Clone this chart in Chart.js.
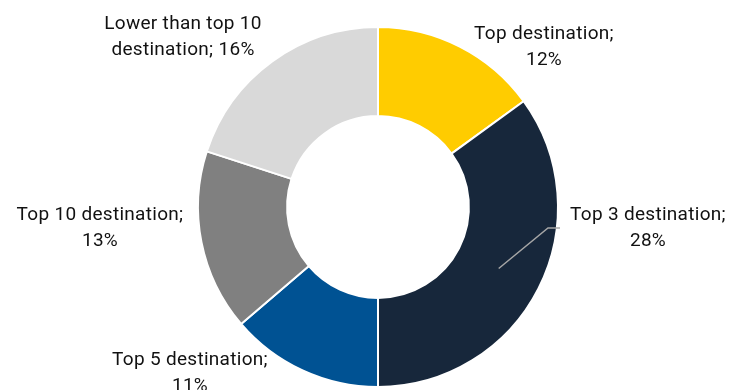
<!DOCTYPE html>
<html>
<head>
<meta charset="utf-8">
<script src="https://cdn.jsdelivr.net/npm/chart.js@4/dist/chart.umd.min.js"></script>
<style>
  html, body { margin: 0; padding: 0; background: #ffffff; }
  #wrap { width: 733px; height: 390px; position: relative; }
</style>
</head>
<body>
<div id="wrap"><canvas id="chart" width="733" height="390"></canvas></div>
<script>
// Destination ranking shares
const categories = ['Top destination', 'Top 3 destination', 'Top 5 destination', 'Top 10 destination', 'Lower than top 10 destination'];
const shares = [12, 28, 11, 13, 16];
const sliceColors = ['#FFCC00', '#17273B', '#005293', '#808080', '#D9D9D9'];

// Label text lines for each slice (category name; value%)
const labelLines = [
  ['Top destination;', '12%'],
  ['Top 3 destination;', '28%'],
  ['Top 5 destination;', '11%'],
  ['Top 10 destination;', '13%'],
  ['Lower than top 10', 'destination; 16%']
];
// Label anchor (centre of first line), in canvas pixels
const labelPos = [
  { x: 544, y: 34 },
  { x: 648, y: 215 },
  { x: 190, y: 360 },
  { x: 100, y: 215 },
  { x: 183, y: 24 }
];

const FONT = '19px "Roboto", "Liberation Sans", sans-serif';
const LINE_H = 26;

const labelPlugin = {
  id: 'sliceLabels',
  afterDatasetsDraw(chart) {
    const ctx = chart.ctx;
    const meta = chart.getDatasetMeta(0);
    ctx.save();
    // leader line for the Top 3 slice, starting mid-ring
    const arc = meta.data[1];
    const mid = (arc.startAngle + arc.endAngle) / 2;
    const r = (arc.innerRadius + arc.outerRadius) / 2;
    const sx = arc.x + Math.cos(mid) * r;
    const sy = arc.y + Math.sin(mid) * r;
    ctx.strokeStyle = '#A6A6A6';
    ctx.lineWidth = 1.5;
    ctx.beginPath();
    ctx.moveTo(sx, sy);
    ctx.lineTo(548, 228);
    ctx.lineTo(560, 228);
    ctx.stroke();

    ctx.fillStyle = '#111111';
    ctx.font = FONT;
    if ('letterSpacing' in ctx) ctx.letterSpacing = '0.3px';
    ctx.textAlign = 'center';
    ctx.textBaseline = 'middle';
    labelLines.forEach((lines, i) => {
      lines.forEach((t, j) => {
        ctx.fillText(t, labelPos[i].x, labelPos[i].y + j * LINE_H);
      });
    });
    ctx.restore();
  }
};

new Chart(document.getElementById('chart'), {
  type: 'doughnut',
  data: {
    labels: categories,
    datasets: [{
      data: shares,
      backgroundColor: sliceColors,
      borderColor: '#ffffff',
      borderWidth: 2
    }]
  },
  options: {
    responsive: false,
    animation: false,
    cutout: '50.5%',
    layout: { padding: { top: 26, bottom: 2, left: 23, right: 0 } },
    plugins: {
      legend: { display: false },
      tooltip: { enabled: false }
    }
  },
  plugins: [labelPlugin]
});
</script>
</body>
</html>
